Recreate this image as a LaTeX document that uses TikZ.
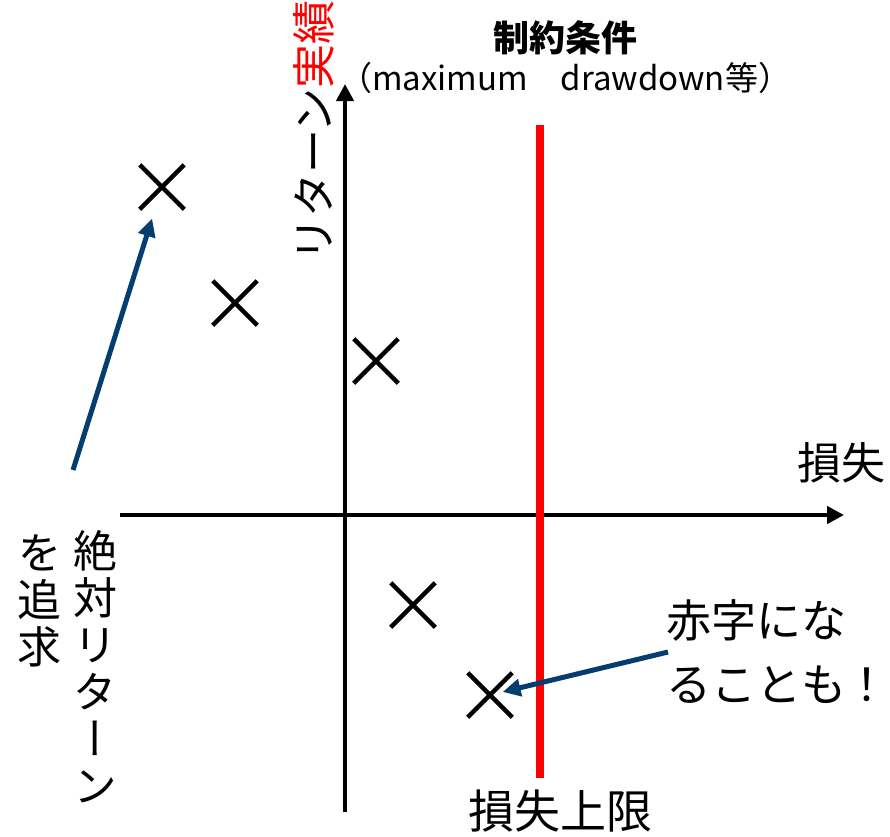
\documentclass[tikz,border=0pt]{standalone}
\usepackage{fontspec}
\setmainfont{Noto Sans CJK JP}
\newfontfamily\tatefont[RawFeature=+vert]{Noto Sans CJK JP}
\newfontfamily\paltfont[RawFeature=+palt]{Noto Sans CJK JP}
\usepackage{xcolor}
\usetikzlibrary{arrows.meta, positioning, shapes.misc}
\definecolor{navy}{HTML}{063D6F}

\begin{document}
\begin{tikzpicture}[x=1pt, y=-1pt,
    axis/.style={line width=4.5pt, -{Triangle[length=17pt, width=17pt]}},
    pointer/.style={navy, line width=5pt, -{Triangle[length=18pt, width=17pt]}},
    limit/.style={red, line width=8pt},
    crossmark/.style={cross out, draw, line width=4.5pt, minimum size=40pt, inner sep=0pt},
    lbl/.style={inner sep=0pt, font=\fontsize{44}{50}\selectfont},
    tate/.style={inner sep=0pt, align=center, font=\tatefont\fontsize{44}{47}\selectfont}]
    \useasboundingbox (0,0) rectangle (890,836);

    % axes
    \coordinate (xstart) at (120,515);
    \coordinate (xend) at (844,515);
    \coordinate (ystart) at (345,812);
    \coordinate (yend) at (345,84);
    \draw[axis] (xstart) -- (xend);
    \draw[axis] (ystart) -- (yend);

    % upper limit of loss
    \coordinate (ltop) at (540,125);
    \coordinate (lbot) at (540,778);
    \draw[limit] (ltop) -- (lbot);

    % points
    \node[crossmark] (p1) at (162,187) {};
    \node[crossmark] (p2) at (235,303) {};
    \node[crossmark] (p3) at (376,361) {};
    \node[crossmark] (p4) at (413,605) {};
    \node[crossmark] (p5) at (490,695) {};

    % labels
    \node[lbl, font=\bfseries\fontsize{36}{40}\selectfont] (title) at (565,38) {制約条件};
    \node[lbl, font=\fontsize{33}{36}\selectfont, below=7pt of title] (sub) {（maximum　drawdown等）};
    \node[lbl, rotate=90, font=\fontsize{44}{48}\selectfont] (ylbl) at (314,131) {リターン\textcolor{red}{実績}};
    \node[lbl] (xlbl) at (841,463) {損失};
    \node[lbl, font=\fontsize{46}{52}\selectfont] (limlbl) at (560,811) {損失上限};
    \node[lbl, align=left, anchor=west, font=\fontsize{45}{64}\selectfont] (loss) at (666,652) {赤字にな\\ることも\hspace{10pt}{\paltfont ！}};
    \node[tate, anchor=north] (abs) at (95,530) {絶\\対\\リ\\タ\\ー\\ン};
    \node[tate, anchor=north] (seek) at (39,535) {を\\追\\求};

    % arrows
    \coordinate (a1) at (73,470);
    \coordinate (a2) at (668,652);
    \draw[pointer, shorten >=33pt] (a1) -- (p1.center);
    \draw[pointer, shorten >=13pt] (a2) -- (p5.center);
\end{tikzpicture}
\end{document}
